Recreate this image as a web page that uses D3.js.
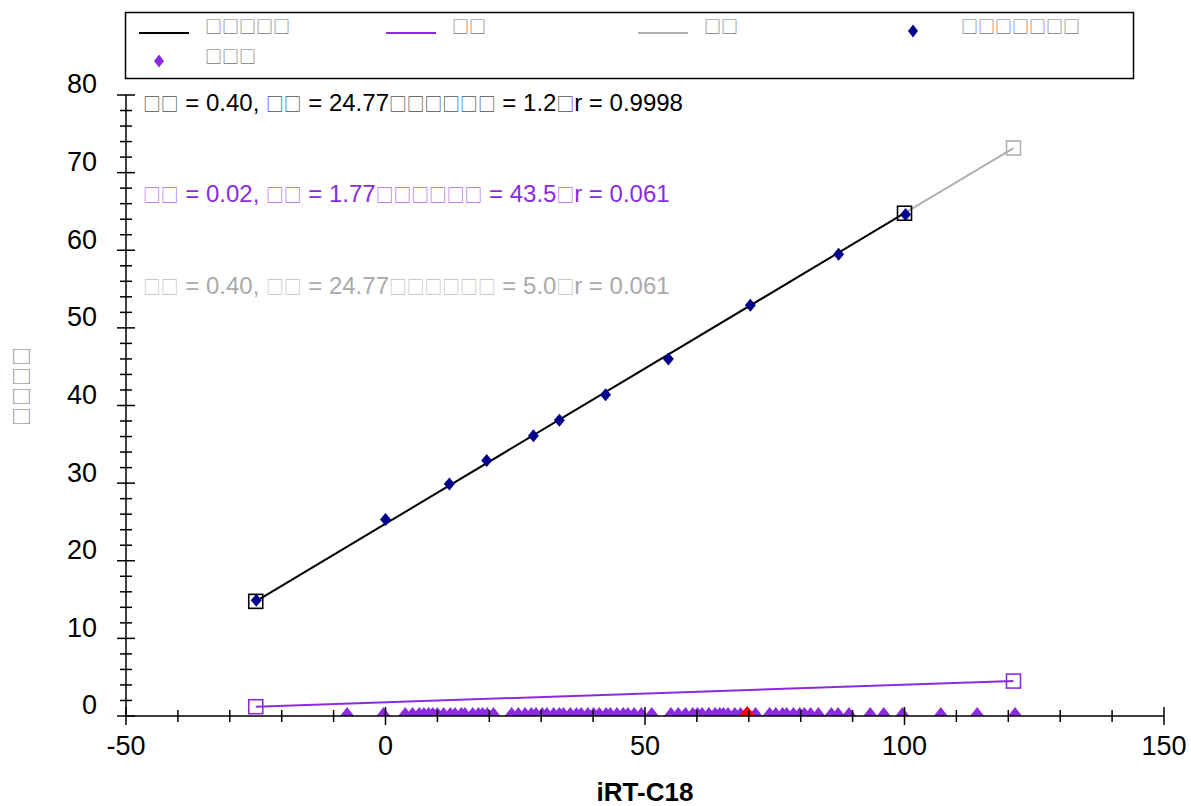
<!DOCTYPE html>
<html>
<head>
<meta charset="utf-8">
<script src="https://cdn.jsdelivr.net/npm/d3@7"></script>
<style>
body{margin:0;background:#fff;}
text{font-family:"Liberation Sans",Arial,sans-serif;}
.box{font-family:"Noto Sans CJK SC","DejaVu Sans",sans-serif;}
</style>
</head>
<body>
<svg id="chart"></svg>
<script>
// fitted points (iRT-C18 vs measured)
var fitX = [-24.9, 0, 12.3, 19.5, 28.5, 33.5, 42.4, 54.5, 70.3, 87.3, 100.2]
var fitY = [14.9, 25.3, 29.9, 32.9, 36.1, 38.1, 41.4, 46.0, 52.9, 59.5, 64.6]

// outliers sitting on the axis
var outX = [-7.4, -0.4, 3.8, 5.2, 6.5, 7.4, 8.3, 9.1, 10.0, 11.2, 12.5, 13.4, 14.6, 15.3, 16.8, 17.9, 18.7, 19.6, 20.8,
  24.3, 25.6, 26.9, 28.1, 29.0, 30.2, 31.1, 32.4, 33.5, 34.3, 35.6, 36.8, 37.7, 39.0, 40.1, 41.2, 42.5, 43.3, 44.6,
  45.8, 46.7, 47.9, 49.3, 51.3, 55.0, 56.4, 57.8, 59.2, 60.1, 61.0, 62.3, 63.5, 64.4, 65.1, 66.0, 67.3, 68.4, 71.3,
  74.0, 75.2, 76.5, 77.3, 78.6, 79.8, 80.7, 81.9, 83.4, 85.9, 87.2, 89.3, 93.4, 96.0, 99.6, 107.0, 114.0, 121.3]
var outY = 0
var selectedX = [69.7]

// regression lines (end points)
var blackLine = [[-25, 14.77], [100, 64.77]]
var purpleLine = [[-25, 1.2], [121, 4.5]]
var grayLine = [[100, 64.77], [121, 73.17]]

var legendNames = ["□□□□□", "□□", "□□", "□□□□□□□", "□□□"]
var statLines = [
  "□□ = 0.40, □□ = 24.77□□□□□□ = 1.2□r = 0.9998",
  "□□ = 0.02, □□ = 1.77□□□□□□ = 43.5□r = 0.061",
  "□□ = 0.40, □□ = 24.77□□□□□□ = 5.0□r = 0.061"
]
var xTicks = [-50, 0, 50, 100, 150]
var yTicks = [0, 10, 20, 30, 40, 50, 60, 70, 80]
var xTitle = "iRT-C18"
var yTitle = "□□□□"

var screen = {width:1191, height:806}
var margins = {left:126, right:27, top:95, bottom:90}

var svg = d3.select("#chart")
  .attr("width", screen.width)
  .attr("height", screen.height)

var xScale = d3.scaleLinear().domain([-50,150]).range([margins.left, screen.width-margins.right])
var yScale = d3.scaleLinear().domain([0,80]).range([screen.height-margins.bottom, margins.top])

var purple = "#8a2be2"
var navy = "#00008b"
var gray = "#aaaaaa"

var diamond = function(cx, cy, w, h){
  return "M"+cx+","+(cy-h/2)+"L"+(cx+w/2)+","+cy+"L"+cx+","+(cy+h/2)+"L"+(cx-w/2)+","+cy+"Z"
}

// split a string into runs of box glyphs and normal text
var addRuns = function(textSel, s, boxSize){
  var runs = s.match(/□+|[^□]+/g)
  runs.forEach(function(r){
    var t = textSel.append("tspan").text(r)
    if(r[0]=="□"){
      t.attr("class","box").attr("font-size",boxSize).attr("fill-opacity",0.75)
    }
  })
}

// legend
var legend = svg.append("g")
legend.append("rect")
  .attr("x",125.5).attr("y",12.5).attr("width",1008).attr("height",66)
  .attr("fill","white").attr("stroke","black").attr("stroke-width",1.5)

var legendItems = [
  {kind:"line", color:"black", x:139, y:31},
  {kind:"line", color:purple, x:386, y:31},
  {kind:"line", color:"#b0b0b0", x:638, y:31},
  {kind:"dot", color:navy, x:913, y:31},
  {kind:"dot", color:purple, x:159, y:61}
]
legendItems.forEach(function(d,i){
  if(d.kind=="line"){
    legend.append("line").attr("x1",d.x).attr("x2",d.x+50).attr("y1",d.y+2).attr("y2",d.y+2)
      .attr("stroke",d.color).attr("stroke-width",2)
  } else {
    legend.append("path").attr("d",diamond(d.x,d.y,10,13)).attr("fill",d.color)
  }
  var tx = d.kind=="line" ? d.x+66 : (i==3 ? 961 : 205)
  legend.append("text").attr("class","box").attr("x",tx).attr("y",d.y-4).attr("dy","0.35em")
    .attr("fill","#777").attr("font-size",17)
    .text(legendNames[i])
})

// clip region
svg.append("clipPath").attr("id","plotClip")
  .append("rect")
  .attr("x",xScale(-50)).attr("y",yScale(80))
  .attr("width",xScale(150)-xScale(-50)).attr("height",yScale(0)-yScale(80))

var plot = svg.append("g").attr("clip-path","url(#plotClip)")

var lineGen = d3.line().x(function(d){return xScale(d[0])}).y(function(d){return yScale(d[1])})

var drawLine = function(pts, color){
  plot.append("path").attr("d",lineGen(pts)).attr("fill","none")
    .attr("stroke",color).attr("stroke-width",2)
}
drawLine(grayLine, "#b0b0b0")
drawLine(blackLine, "black")
drawLine(purpleLine, purple)

// outliers on the x axis
plot.selectAll(".out")
  .data(outX)
  .enter()
  .append("path")
  .attr("class","out")
  .attr("d",function(d){return diamond(xScale(d), yScale(outY), 14, 18)})
  .attr("fill",purple)

plot.selectAll(".sel")
  .data(selectedX)
  .enter()
  .append("path")
  .attr("class","sel")
  .attr("d",function(d){return diamond(xScale(d), yScale(outY), 17, 20)})
  .attr("fill","red")

// fitted points
plot.selectAll(".fit")
  .data(fitX)
  .enter()
  .append("path")
  .attr("class","fit")
  .attr("d",function(d,i){return diamond(xScale(d), yScale(fitY[i]), 11, 13)})
  .attr("fill",navy)

// end point squares
var squares = [
  {p:blackLine[0], c:"black"}, {p:blackLine[1], c:"black"},
  {p:grayLine[1], c:"#b0b0b0"},
  {p:purpleLine[0], c:purple}, {p:purpleLine[1], c:purple}
]
svg.selectAll(".sq")
  .data(squares)
  .enter()
  .append("rect")
  .attr("class","sq")
  .attr("x",function(d){return xScale(d.p[0])-7})
  .attr("y",function(d){return yScale(d.p[1])-7})
  .attr("width",14).attr("height",14)
  .attr("fill","none")
  .attr("stroke",function(d){return d.c})
  .attr("stroke-width",1.6)

// stats text
var statColors = ["black", purple, gray]
var statY = [103, 194, 286]
statLines.forEach(function(s,i){
  var t = svg.append("text").attr("x",143).attr("y",statY[i]).attr("dy","0.35em")
    .attr("font-size",24).attr("fill",statColors[i])
  addRuns(t, s, 17.8)
})

// axes
var drawAxis = function(){
  var x0 = xScale(-50), y0 = yScale(0)
  var ax = svg.append("g").attr("stroke","black").attr("stroke-width",1.5)
  ax.append("line").attr("x1",x0).attr("x2",x0).attr("y1",yScale(80)).attr("y2",y0)
  ax.append("line").attr("x1",x0).attr("x2",xScale(150)).attr("y1",y0).attr("y2",y0)

  var yMinor = d3.range(0,81,2)
  ax.selectAll(".ym").data(yMinor).enter().append("line")
    .attr("x1",function(d){return d%10==0 ? x0-9 : x0-6})
    .attr("x2",function(d){return d%10==0 ? x0+9 : x0+6})
    .attr("y1",function(d){return yScale(d)}).attr("y2",function(d){return yScale(d)})

  var xMinor = d3.range(-50,151,10)
  ax.selectAll(".xm").data(xMinor).enter().append("line")
    .attr("x1",function(d){return xScale(d)}).attr("x2",function(d){return xScale(d)})
    .attr("y1",function(d){return d%50==0 ? y0-9 : y0-6})
    .attr("y2",function(d){return d%50==0 ? y0+9 : y0+6})

  svg.selectAll(".xl").data(xTicks).enter().append("text")
    .attr("x",function(d){return xScale(d)}).attr("y",y0+30).attr("dy","0.35em")
    .attr("text-anchor","middle").attr("font-size",27).text(function(d){return d})

  svg.selectAll(".yl").data(yTicks).enter().append("text")
    .attr("x",x0-29).attr("y",function(d){return yScale(d)-11}).attr("dy","0.35em")
    .attr("text-anchor","end").attr("font-size",27).text(function(d){return d})

  svg.append("text").attr("x",(xScale(-50)+xScale(150))/2).attr("y",792).attr("dy","0.35em")
    .attr("text-anchor","middle").attr("font-size",26).attr("font-weight","bold").text(xTitle)

  svg.append("text").attr("class","box").attr("transform","translate(22,386) rotate(-90)").attr("dy","0.35em")
    .attr("text-anchor","middle").attr("font-size",19).attr("fill","#777").attr("letter-spacing",1)
    .text(yTitle)
}
drawAxis()
</script>
</body>
</html>
